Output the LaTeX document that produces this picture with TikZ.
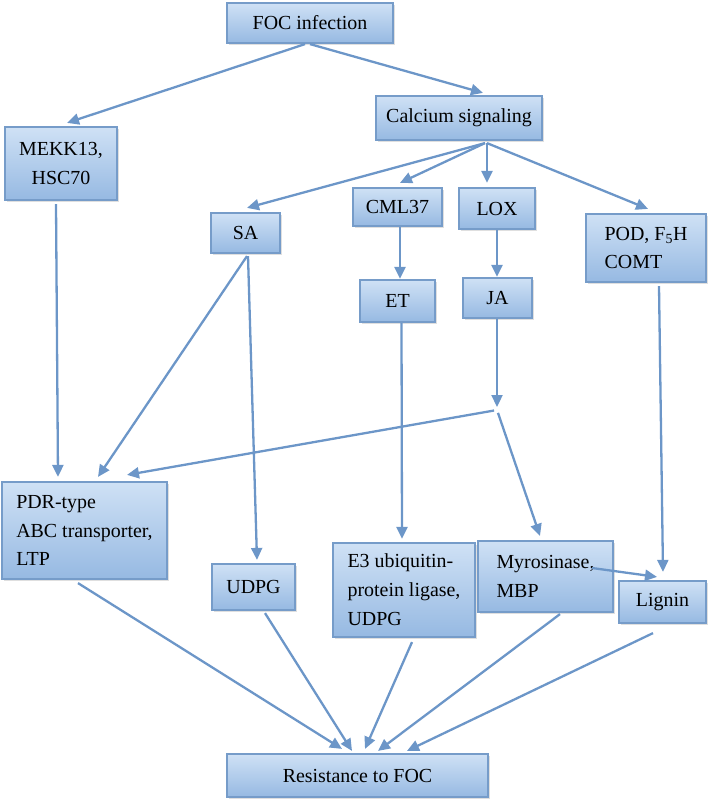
\documentclass[tikz,border=0pt]{standalone}
\usepackage{fontspec}
\setmainfont{Liberation Serif}
\usetikzlibrary{arrows.meta,shadows,calc}
\definecolor{boxtop}{RGB}{207,225,245}
\definecolor{boxbot}{RGB}{150,185,226}
\definecolor{boxline}{RGB}{118,156,201}
\definecolor{arr}{RGB}{108,150,200}
\tikzset{
 box/.style={draw=boxline, line width=2.2bp, top color=boxtop, bottom color=boxbot, inner sep=0pt,
   font=\fontsize{20}{29}\selectfont,
   drop shadow={opacity=0.25, shadow xshift=2bp, shadow yshift=-2bp}},
 conn/.style={draw=arr, line width=2.3bp, -{Triangle[length=12bp,width=11bp]}},
}
\begin{document}
\begin{tikzpicture}[x=1bp,y=-1bp]
\useasboundingbox (0,0) rectangle (708,799);
\node[box, minimum width=166bp, minimum height=40bp] (foc) at (310,23) {FOC infection};
\node[box, minimum width=166bp, minimum height=44bp] (cal) at (459,118) {Calcium signaling};
\node[box, minimum width=112bp, minimum height=73bp, align=center] (mekk) at (61,163.5) {MEKK13,\\HSC70};
\node[box, minimum width=69bp, minimum height=40bp] (sa) at (245.5,233) {SA};
\node[box, minimum width=89bp, minimum height=38bp] (cml) at (397.5,207) {CML37};
\node[box, minimum width=76bp, minimum height=41bp] (lox) at (497,208.5) {LOX};
\node[box, minimum width=75bp, minimum height=42bp] (et) at (397.5,301) {ET};
\node[box, minimum width=69bp, minimum height=40bp] (ja) at (497.5,298) {JA};
\node[box, minimum width=120bp, minimum height=68bp, align=left] (pod) at (646,248) {POD, F\textsubscript{5}H\\COMT};
\node[box, minimum width=165bp, minimum height=97bp, align=left] (pdr) at (84.5,530.5) {PDR-type\\ABC transporter,\\LTP};
\node[box, minimum width=83bp, minimum height=46bp] (udpg) at (253.5,587) {UDPG};
\node[box, minimum width=142bp, minimum height=94bp, align=left] (e3) at (404,590) {E3 ubiquitin-\\protein ligase,\\UDPG};
\node[box, minimum width=135bp, minimum height=71bp, align=left] (myro) at (545.5,576.5) {Myrosinase,\\MBP};
\node[box, minimum width=87bp, minimum height=42bp] (lig) at (662.5,602) {Lignin};
\node[box, minimum width=261bp, minimum height=43bp] (res) at (357.5,775.5) {Resistance to FOC};
\coordinate (jn) at (497,410);

\draw[conn] ($(foc.south)+(-5,0)$) -- ($(mekk.north)+(6,-3)$);
\draw[conn] (foc.south) -- ($(cal.north)+(24,-2)$);
\draw[conn] ($(cal.south)+(26,2)$) -- ($(sa.north)+(1.5,-4)$);
\draw[conn] ($(cal.south)+(26,2)$) -- ($(cml.north)+(2.5,-4)$);
\draw[conn] ($(cal.south)+(28,2)$) -- ($(lox.north)+(-10,-4)$);
\draw[conn] ($(cal.south)+(28,2)$) -- ($(pod.north)+(2,-4)$);
\draw[conn] ($(cml.south)+(2.5,0)$) -- ($(et.north)+(2.5,0)$);
\draw[conn] (lox.south) -- ($(ja.north)+(-0.5,0)$);
\draw[conn] ($(mekk.south)+(-5,3)$) -- ($(pdr.north)+(-26.5,-4)$);
\draw[conn] ($(sa.south)+(1.5,2)$) -- ($(pdr.north)+(13.5,-4)$);
\draw[conn] ($(sa.south)+(2.5,2)$) -- ($(udpg.north)+(3.5,-3)$);
\draw[conn, shorten >=3bp] ($(ja.south)+(-0.5,0)$) -- (jn);
\draw[conn, shorten <=3bp] (jn) -- ($(pdr.north)+(42.5,-6)$);
\draw[conn, shorten <=3bp] (jn) -- ($(myro.north)+(-5.5,-4)$);
\draw[conn] ($(et.south)+(4,0)$) -- ($(e3.north)+(-2,-3)$);
\draw[conn] ($(pod.south)+(13,3)$) -- ($(lig.north)+(0.5,-8)$);
\draw[conn] ($(myro.center)+(46.5,-8.5)$) -- ($(lig.north)+(-5.5,-3)$);
\draw[conn] ($(pdr.south)+(-6.5,3)$) -- ($(res.north)+(-15.5,-4)$);
\draw[conn] ($(udpg.south)+(11.5,2)$) -- ($(res.north)+(-5.5,-2)$);
\draw[conn] ($(e3.south)+(8,4)$) -- ($(res.north)+(7.5,-4)$);
\draw[conn] ($(myro.south)+(14.5,1)$) -- ($(res.north)+(20.5,-2)$);
\draw[conn] ($(lig.south)+(-9.5,9)$) -- ($(res.north)+(49.5,-2)$);
\end{tikzpicture}
\end{document}
